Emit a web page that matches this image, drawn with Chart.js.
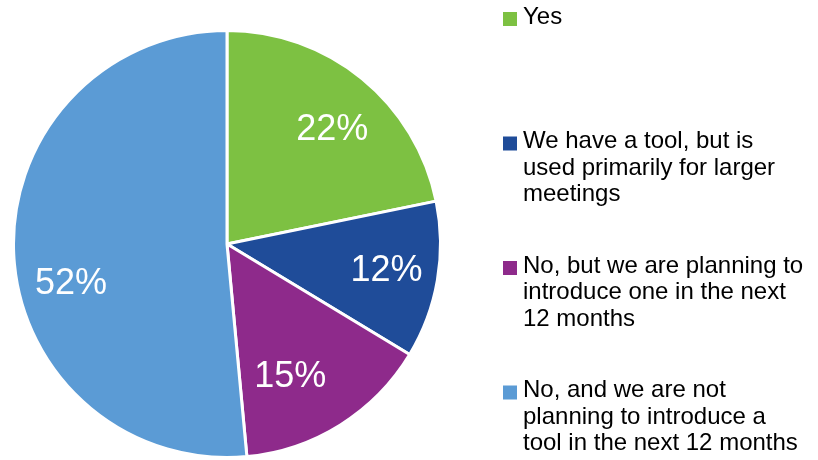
<!DOCTYPE html>
<html>
<head>
<meta charset="utf-8">
<script src="https://cdn.jsdelivr.net/npm/chart.js@4/dist/chart.umd.min.js"></script>
<style>
  html, body { margin: 0; padding: 0; background: #fff; }
  #wrap { width: 818px; height: 460px; }
</style>
</head>
<body>
<div id="wrap"><canvas id="toolChart" width="818" height="460"></canvas></div>
<script>
// categories (legend text, already split in lines like the original)
const categories = [
    ['Yes'],
    ['We have a tool, but is', 'used primarily for larger', 'meetings'],
    ['No, but we are planning to', 'introduce one in the next', '12 months'],
    ['No, and we are not', 'planning to introduce a', 'tool in the next 12 months']
];
const shares = [22, 12, 15, 52]; // percent
const sliceColors = ['#7DC142', '#1F4C99', '#8E2A8B', '#5B9BD5'];

// where each percent label sits: fraction of radius, turn from slice middle (deg)
const labelRadius = [0.74, 0.755, 0.675, 0.75];
const labelTurn = [2.6, -1.5, 6, -10.4];

const FONT = '"Liberation Sans", Arial, sans-serif';

// white percentage labels inside the slices
const sliceLabels = {
    id: 'sliceLabels',
    afterDatasetsDraw(chart) {
        const ctx = chart.ctx;
        const meta = chart.getDatasetMeta(0);
        ctx.save();
        ctx.fillStyle = '#fff';
        ctx.font = '36px ' + FONT;
        ctx.textAlign = 'center';
        ctx.textBaseline = 'middle';
        meta.data.forEach((arc, i) => {
            const p = arc.getProps(['x', 'y', 'startAngle', 'endAngle', 'outerRadius'], true);
            const mid = (p.startAngle + p.endAngle) / 2 + labelTurn[i] * Math.PI / 180;
            const r = p.outerRadius * labelRadius[i];
            // +4: digits sit a bit high with 'middle'
            ctx.fillText(shares[i] + '%', p.x + Math.cos(mid) * r, p.y + Math.sin(mid) * r + 4);
        });
        ctx.restore();
    }
};

// legend on the right, drawn by hand so the spacing matches
const sideLegend = {
    id: 'sideLegend',
    afterDraw(chart) {
        const ctx = chart.ctx;
        const x0 = 503, tx = 523;
        const firstY = 17, itemGap = 124.5, lineH = 26.5;
        ctx.save();
        ctx.font = '24px ' + FONT;
        ctx.textBaseline = 'middle';
        categories.forEach((lines, i) => {
            const y = firstY + i * itemGap;
            ctx.fillStyle = sliceColors[i];
            ctx.fillRect(x0, y - 5, 14, 14);
            ctx.fillStyle = '#000';
            lines.forEach((t, j) => ctx.fillText(t, tx, y + j * lineH));
        });
        ctx.restore();
    }
};

const ctx = document.getElementById('toolChart').getContext('2d');
const toolChart = new Chart(ctx, {
    type: 'pie',
    data: {
        labels: categories,
        datasets: [{
            data: shares,
            backgroundColor: sliceColors,
            borderColor: '#fff',
            borderWidth: 3
        }]
    },
    options: {
        responsive: false,
        animation: false,
        layout: { padding: { left: 12, right: 376, top: 29, bottom: 1 } },
        plugins: {
            legend: { display: false },
            tooltip: { enabled: false }
        }
    },
    plugins: [sliceLabels, sideLegend]
});
</script>
</body>
</html>
